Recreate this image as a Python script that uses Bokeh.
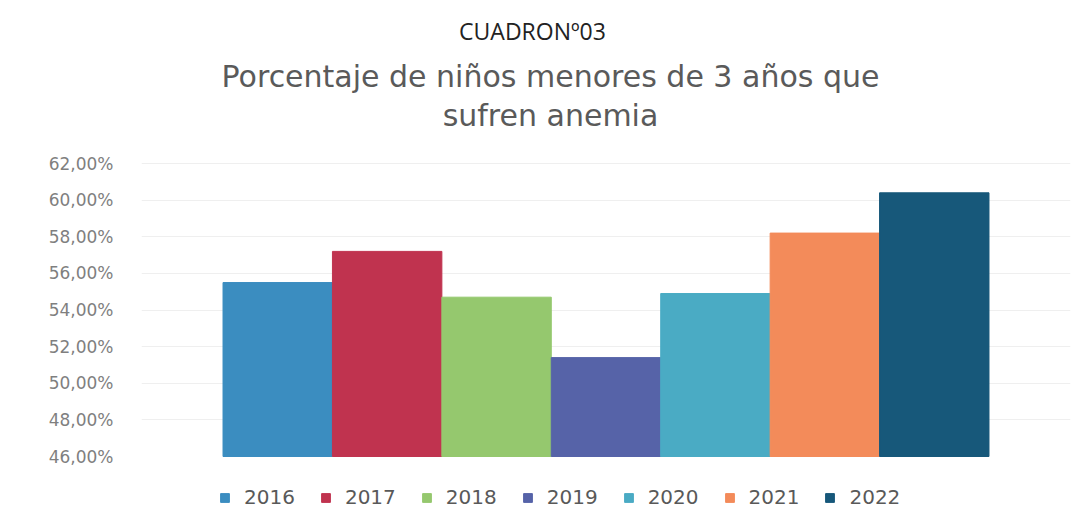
from bokeh.plotting import figure
from bokeh.models import (Range1d, FixedTicker, CustomJSTickFormatter, Label,
                          Legend, LegendItem)
from bokeh.embed import file_html
from bokeh.resources import INLINE

# ---- data ----
years = ["2016", "2017", "2018", "2019", "2020", "2021", "2022"]
year_pos = [2016, 2017, 2018, 2019, 2020, 2021, 2022]
values = [0.555, 0.572, 0.547, 0.514, 0.549, 0.582, 0.604]
colors = ["#3b8dc0", "#c0334f", "#95c86e", "#5663a8", "#4aabc4", "#f38b5a", "#17587a"]
y_ticks = [0.46, 0.48, 0.50, 0.52, 0.54, 0.56, 0.58, 0.60, 0.62]

# ---- layout (frame spans whole height; the visible axis covers 46%..62%) ----
W, H = 1076, 512
left, right = 141, 6
px_per_unit_y = 293 / (y_ticks[-1] - y_ticks[0])
y_top = y_ticks[-1] + 163 / px_per_unit_y
y_bot = y_ticks[0] - (H - 456) / px_per_unit_y
pad = 0.745
x0, x1 = year_pos[0] - 0.5 - pad, year_pos[-1] + 0.5 + pad
px_per_unit_x = (W - left - right) / (x1 - x0)

def dx(px):  # screen x -> data x
    return x0 + (px - left) / px_per_unit_x

def dy(py):  # screen y -> data y
    return y_top - py / px_per_unit_y

p = figure(width=W, height=H, output_backend="svg", toolbar_location=None,
           x_range=Range1d(x0, x1), y_range=Range1d(y_bot, y_top),
           x_axis_location=None,
           min_border_left=left, min_border_right=right,
           min_border_top=0, min_border_bottom=0)
p.outline_line_color = None
p.xgrid.grid_line_color = None
p.ygrid.grid_line_color = "#efefef"
p.ygrid.ticker = FixedTicker(ticks=y_ticks[1:])

ax = p.yaxis[0]
ax.ticker = FixedTicker(ticks=y_ticks)
ax.formatter = CustomJSTickFormatter(code="return (tick*100).toFixed(2).replace('.', ',') + '%';")
ax.axis_line_color = None
ax.major_tick_line_color = None
ax.minor_tick_line_color = None
ax.major_label_standoff = 22
ax.major_label_text_font = "DejaVu Sans"
ax.major_label_text_font_size = "17px"
ax.major_label_text_color = "#7f7f7f"

items = []
for yr, xp, v, c in zip(years, year_pos, values, colors):
    r = p.vbar(x=[xp], top=[v], bottom=y_ticks[0], width=1.0,
               fill_color=c, line_color=c)
    items.append(LegendItem(label=yr, renderers=[r]))

legend = Legend(items=items, orientation="horizontal", location=(78, 3),
                label_text_font="DejaVu Sans", label_text_font_size="20px",
                label_text_color="#595959", glyph_width=11, glyph_height=11,
                label_standoff=14, spacing=25, padding=0, margin=0,
                border_line_color=None, background_fill_alpha=0)
p.add_layout(legend, "center")

p.add_layout(Label(x=dx(532), y=dy(30), text="CUADRONº03",
                   text_align="center", text_baseline="middle",
                   text_font="Open Sans", text_font_size="23px", text_color="#222222"))
p.add_layout(Label(x=dx(550), y=dy(76), text="Porcentaje de niños menores de 3 años que",
                   text_align="center", text_baseline="middle",
                   text_font="DejaVu Sans", text_font_size="30px", text_color="#5a5a5a"))
p.add_layout(Label(x=dx(550), y=dy(115), text="sufren anemia",
                   text_align="center", text_baseline="middle",
                   text_font="DejaVu Sans", text_font_size="30px", text_color="#5a5a5a"))

open("out.html", "w").write(file_html(p, INLINE))
